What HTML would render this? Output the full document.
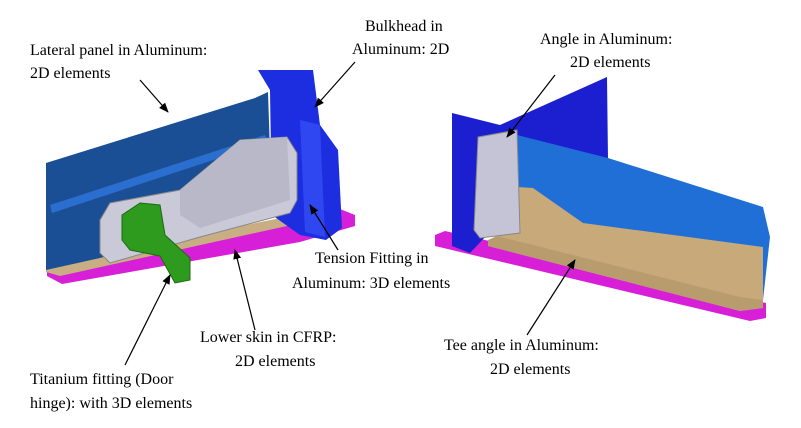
<!DOCTYPE html>
<html><head><style>
html,body{margin:0;padding:0;background:#fff;}
svg{display:block;}
text{font-family:"Liberation Serif",serif;font-size:16px;fill:#000;}
</style></head><body>
<svg width="801" height="428" viewBox="0 0 801 428" xmlns="http://www.w3.org/2000/svg">
<defs>
<marker id="a" markerWidth="10" markerHeight="8" refX="9" refY="4" orient="auto" markerUnits="userSpaceOnUse">
<path d="M0,0 L10,4 L0,8 z" fill="#000"/></marker>
</defs>
<!-- LEFT ASSEMBLY -->
<polygon points="47,268 300,215 330,205 355,215 355,226 300,242 62,284 47,276" fill="#d81fd8"/>
<polygon points="46,266 300,214 305,222 60,276 46,272" fill="#c8ae82"/>
<polygon points="46,163 255,98 268,92 272,215 100,258 46,270" fill="#1a4f95"/>
<polygon points="50,205 265,135 268,142 52,213" fill="#2a6fcf"/>
<polygon points="258,70 313,70 320,125 338,150 342,228 326,240 300,235 272,215 270,90" fill="#1c2ee0"/>
<polygon points="300,120 320,125 325,237 305,232" fill="#2f47f0"/>
<polygon points="100,220 110,203 180,190 240,140 287,137 297,153 297,200 290,213 200,237 110,263 100,253" fill="#c9c9d8" stroke="#888" stroke-width="1"/>
<polygon points="180,190 240,140 287,137 290,200 200,228 180,215" fill="#b8b8c8"/>
<polygon points="122,215 140,203 160,205 165,235 190,258 190,280 175,283 160,256 130,250 122,240" fill="#2e9a1e" stroke="#1d6a12" stroke-width="1"/>
<!-- RIGHT ASSEMBLY -->
<polygon points="435,235 445,231 766,303 766,318 750,321 435,246" fill="#d81fd8"/>
<polygon points="452,113 500,125 607,77 608,160 520,200 470,253 452,246" fill="#1b1fcf"/>
<polygon points="517,135 608,158 763,207 770,237 763,300 517,250" fill="#1f6fd6"/>
<polygon points="517,187 533,188 583,223 763,247 763,308 740,311 488,246 497,238" fill="#c8a97a"/>
<polygon points="488,240 497,236 740,297 763,300 763,308 740,311 488,246" fill="#b89c6e"/>
<polygon points="478,137 517,130 520,233 480,238 474,230" fill="#c4c4d6" stroke="#888" stroke-width="1"/>
<!-- arrows -->
<g stroke="#000" stroke-width="1.2" fill="none" marker-end="url(#a)">
<line x1="140" y1="80" x2="168" y2="112"/>
<line x1="355" y1="62" x2="315" y2="107"/>
<line x1="555" y1="75" x2="507" y2="137"/>
<line x1="338" y1="250" x2="310" y2="205"/>
<line x1="255" y1="330" x2="235" y2="250"/>
<line x1="527" y1="335" x2="575" y2="260"/>
<line x1="125" y1="365" x2="170" y2="275"/>
</g>
<!-- labels -->
<text x="30" y="55">Lateral panel in Aluminum:</text>
<text x="30" y="78">2D elements</text>
<text x="365" y="31">Bulkhead in</text>
<text x="352" y="54">Aluminum: 2D</text>
<text x="540" y="44">Angle in Aluminum:</text>
<text x="570" y="67">2D elements</text>
<text x="315" y="263">Tension Fitting in</text>
<text x="292" y="288">Aluminum: 3D elements</text>
<text x="200" y="342">Lower skin in CFRP:</text>
<text x="235" y="366">2D elements</text>
<text x="444" y="350">Tee angle in Aluminum:</text>
<text x="490" y="374">2D elements</text>
<text x="30" y="384">Titanium fitting (Door</text>
<text x="30" y="408">hinge): with 3D elements</text>
</svg>
</body></html>
